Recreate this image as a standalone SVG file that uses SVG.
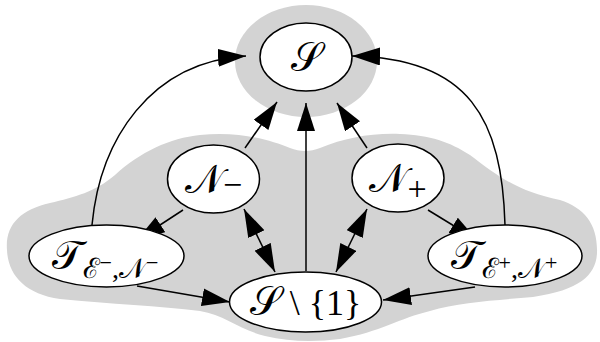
<svg xmlns="http://www.w3.org/2000/svg" width="600" height="342" viewBox="0 0 600 342">
<defs>
<style>
.cl{fill:#d3d3d3;stroke:none}
.nd{fill:#fff;stroke:#000;stroke-width:1.5}
.lb{font-family:"Liberation Serif","DejaVu Serif",serif;font-size:36px;fill:#000;text-anchor:middle}
.sc{font-size:40px}
.sub{font-size:28px}
.sup{font-size:22px}
.e{fill:none;stroke:#000;stroke-width:1.5}
</style>
<marker id="ah" markerUnits="userSpaceOnUse" markerWidth="30" markerHeight="20" refX="28" refY="9" orient="auto-start-reverse" viewBox="0 0 30 20">
<path d="M0,0 L28,9 L0,18 z" fill="#000"/>
</marker>
</defs>
<g id="clusters">
<ellipse class="cl" cx="306" cy="61" rx="71" ry="56"/>
<path class="cl" d="M7,250 C5,225 20,210 50,203 C75,197 95,192 115,175 C140,152 170,138 200,135 C240,131 270,140 290,148 C300,152 310,152 320,148 C345,138 370,133 400,134 C430,135 450,142 470,155 C500,178 520,192 560,200 C585,208 598,225 597,253 C596,275 580,290 533,297 C500,300 460,302 430,311 C400,318 380,332 340,339 C315,342 290,342 265,336 C240,330 225,315 200,311 C160,306 110,304 60,299 C25,294 8,275 7,250 Z"/>
</g>
<g id="edges">
<path class="e" d="M92,225 C100,140 150,62 246,56" marker-end="url(#ah)"/>
<path class="e" d="M505,225 C502,120 470,58 352,56" marker-end="url(#ah)"/>
<path class="e" d="M245,148 L277,102" marker-end="url(#ah)"/>
<path class="e" d="M306,271 L306,103" marker-end="url(#ah)"/>
<path class="e" d="M367,148 L337,103" marker-end="url(#ah)"/>
<path class="e" d="M183,210 L137,240" marker-end="url(#ah)"/>
<path class="e" d="M428,210 L477,240" marker-end="url(#ah)"/>
<path class="e" d="M244,209 L275,272" marker-start="url(#ah)" marker-end="url(#ah)"/>
<path class="e" d="M367,209 L336,272" marker-start="url(#ah)" marker-end="url(#ah)"/>
<path class="e" d="M137,286 L230,302" marker-end="url(#ah)"/>
<path class="e" d="M475,287 L383,300" marker-end="url(#ah)"/>
</g>
<g id="S">
<ellipse class="nd" cx="306" cy="57" rx="46" ry="34"/>
<text class="lb sc" x="306" y="71">𝒮</text>
</g>
<g id="Nminus">
<ellipse class="nd" cx="213.5" cy="179" rx="46" ry="34"/>
<text class="lb" x="213.5" y="193"><tspan class="sc">𝒩</tspan><tspan font-size="34" dy="3">−</tspan></text>
</g>
<g id="Nplus">
<ellipse class="nd" cx="398" cy="178" rx="46" ry="34"/>
<text class="lb" x="398" y="192"><tspan class="sc">𝒩</tspan><tspan font-size="34" dy="8">+</tspan></text>
</g>
<g id="Tminus">
<ellipse class="nd" cx="106.5" cy="256" rx="77.5" ry="31"/>
<text class="lb" x="105" y="269"><tspan class="sc">𝒯</tspan><tspan class="sub" dy="9">ℰ</tspan><tspan class="sup" dy="-8">−</tspan><tspan class="sub" dy="8">,𝒩</tspan><tspan class="sup" dy="-8">−</tspan></text>
</g>
<g id="Tplus">
<ellipse class="nd" cx="505" cy="256" rx="77" ry="31"/>
<text class="lb" x="504" y="269"><tspan class="sc">𝒯</tspan><tspan class="sub" dy="9">ℰ</tspan><tspan class="sup" dy="-8">+</tspan><tspan class="sub" dy="8">,𝒩</tspan><tspan class="sup" dy="-8">+</tspan></text>
</g>
<g id="Sminus1">
<ellipse class="nd" cx="305.5" cy="302" rx="76" ry="30"/>
<text class="lb" x="305.5" y="315"><tspan class="sc">𝒮</tspan> \ {1}</text>
</g>
</svg>
